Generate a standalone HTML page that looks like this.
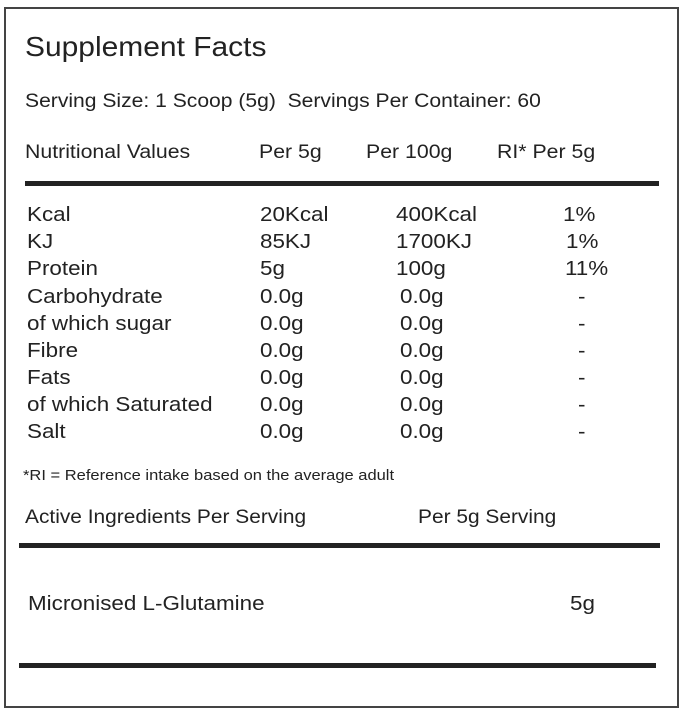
<!DOCTYPE html>
<html><head><meta charset="utf-8"><style>
body{margin:0;width:682px;height:713px;background:#fff;position:relative;overflow:hidden;font-family:"Liberation Sans",sans-serif;color:#222}
.b{position:absolute;left:4px;top:7px;width:671px;height:697px;border:2px solid #444}
.t{position:absolute;white-space:nowrap;line-height:1;transform-origin:0 50%;transform:scaleX(1.12)}
.l{position:absolute;background:#222;height:5px}
.r{font-size:20px}
</style></head><body>
<div class="b"></div>
<div class="t" style="left:25px;top:33px;font-size:28px;transform:scaleX(1.07)">Supplement Facts</div>
<div class="t" style="left:25px;top:92px;font-size:19px;transform:scaleX(1.11)">Serving Size: 1 Scoop (5g)&nbsp; Servings Per Container: 60</div>
<div class="t" style="left:25px;top:143px;font-size:19px">Nutritional Values</div>
<div class="t" style="left:259px;top:143px;font-size:19px">Per 5g</div>
<div class="t" style="left:366px;top:143px;font-size:19px">Per 100g</div>
<div class="t" style="left:497px;top:143px;font-size:19px">RI* Per 5g</div>
<div class="l" style="left:25px;top:181px;width:634px"></div>
<div class="t r" style="left:27px;top:205px">Kcal</div><div class="t r" style="left:260px;top:205px">20Kcal</div><div class="t r" style="left:396px;top:205px">400Kcal</div><div class="t r" style="left:563px;top:205px">1%</div>
<div class="t r" style="left:27px;top:232px">KJ</div><div class="t r" style="left:260px;top:232px">85KJ</div><div class="t r" style="left:396px;top:232px">1700KJ</div><div class="t r" style="left:566px;top:232px">1%</div>
<div class="t r" style="left:27px;top:259px">Protein</div><div class="t r" style="left:260px;top:259px">5g</div><div class="t r" style="left:396px;top:259px">100g</div><div class="t r" style="left:565px;top:259px">11%</div>
<div class="t r" style="left:27px;top:287px">Carbohydrate</div><div class="t r" style="left:260px;top:287px">0.0g</div><div class="t r" style="left:400px;top:287px">0.0g</div><div class="t r" style="left:578px;top:287px">-</div>
<div class="t r" style="left:27px;top:314px">of which sugar</div><div class="t r" style="left:260px;top:314px">0.0g</div><div class="t r" style="left:400px;top:314px">0.0g</div><div class="t r" style="left:578px;top:314px">-</div>
<div class="t r" style="left:27px;top:341px">Fibre</div><div class="t r" style="left:260px;top:341px">0.0g</div><div class="t r" style="left:400px;top:341px">0.0g</div><div class="t r" style="left:578px;top:341px">-</div>
<div class="t r" style="left:27px;top:368px">Fats</div><div class="t r" style="left:260px;top:368px">0.0g</div><div class="t r" style="left:400px;top:368px">0.0g</div><div class="t r" style="left:578px;top:368px">-</div>
<div class="t r" style="left:27px;top:395px">of which Saturated</div><div class="t r" style="left:260px;top:395px">0.0g</div><div class="t r" style="left:400px;top:395px">0.0g</div><div class="t r" style="left:578px;top:395px">-</div>
<div class="t r" style="left:27px;top:422px">Salt</div><div class="t r" style="left:260px;top:422px">0.0g</div><div class="t r" style="left:400px;top:422px">0.0g</div><div class="t r" style="left:578px;top:422px">-</div>
<div class="t" style="left:23px;top:468px;font-size:15px;transform:scaleX(1.1)">*RI = Reference intake based on the average adult</div>
<div class="t" style="left:25px;top:508px;font-size:19px;transform:scaleX(1.1)">Active Ingredients Per Serving</div>
<div class="t" style="left:418px;top:508px;font-size:19px;transform:scaleX(1.1)">Per 5g Serving</div>
<div class="l" style="left:19px;top:543px;width:641px"></div>
<div class="t r" style="left:28px;top:594px">Micronised L-Glutamine</div>
<div class="t r" style="left:570px;top:594px">5g</div>
<div class="l" style="left:19px;top:663px;width:637px"></div>
</body></html>
